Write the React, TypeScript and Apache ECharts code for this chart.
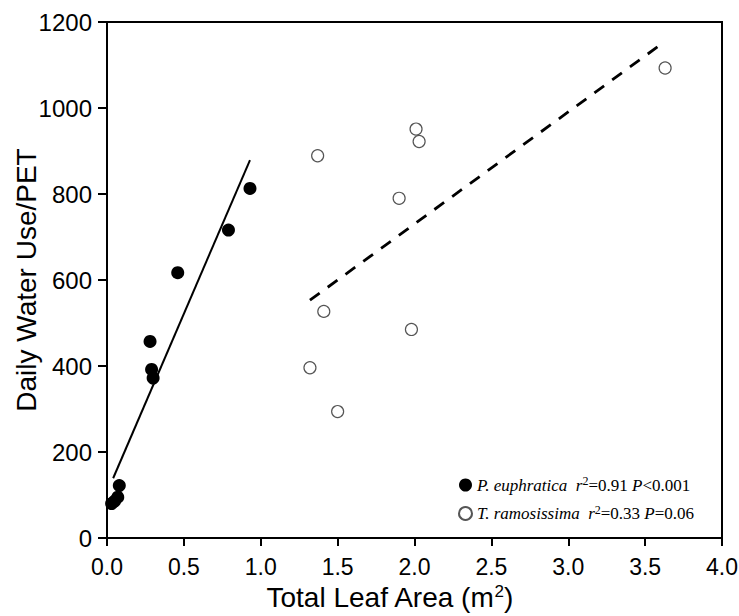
import React, { useEffect, useRef } from "react";
import * as echarts from "echarts";

const peX = [0.03, 0.05, 0.07, 0.08, 0.28, 0.29, 0.3, 0.46, 0.79, 0.93];
const peY = [80, 86, 95, 122, 457, 392, 372, 617, 716, 813];
const trX = [1.32, 1.37, 1.41, 1.5, 1.9, 1.98, 2.01, 2.03, 3.63];
const trY = [396, 889, 527, 294, 790, 485, 951, 922, 1093];
const peFitX = [0.04, 0.93];
const peFitY = [139, 879];
const trFitX = [1.32, 3.58];
const trFitY = [553, 1142];
const xTicks = [0, 0.5, 1, 1.5, 2, 2.5, 3, 3.5, 4];
const yTicks = [0, 200, 400, 600, 800, 1000, 1200];

const zip = (a: number[], b: number[]) => a.map((v, i) => [v, b[i]]);

export default function App() {
  const ref = useRef<HTMLDivElement>(null);
  useEffect(() => {
    if (!ref.current) return;
    const chart = echarts.init(ref.current, undefined, { renderer: "svg" });
    const sans = "Liberation Sans, Arial, sans-serif";
    const serif = "Liberation Serif, Times New Roman, serif";
    chart.setOption({
      animation: false,
      backgroundColor: "#fff",
      grid: {
        left: 107, top: 22, right: 17, bottom: 78, show: true, borderColor: "#000", borderWidth: 2,
        backgroundColor: "transparent", containLabel: false, outerBoundsMode: "none",
      },
      xAxis: {
        type: "value",
        min: xTicks[0],
        max: xTicks[xTicks.length - 1],
        interval: 0.5,
        name: "Total Leaf Area (m{s|2})",
        nameLocation: "middle",
        nameGap: 44,
        nameTextStyle: {
          fontFamily: sans, fontSize: 28, color: "#000", padding: [0, 50, 0, 0],
          rich: { s: { fontFamily: sans, fontSize: 17, verticalAlign: "top", padding: [0, 0, 12, 0], color: "#000" } },
        },
        axisLine: { show: true, onZero: false, lineStyle: { color: "#000", width: 2 } },
        axisTick: { show: true, inside: false, length: 8, lineStyle: { color: "#000", width: 2 } },
        axisLabel: { fontFamily: sans, fontSize: 23, color: "#000", margin: 17, formatter: (v: number) => v.toFixed(1) },
        splitLine: { show: false },
      },
      yAxis: {
        type: "value",
        min: yTicks[0],
        max: yTicks[yTicks.length - 1],
        interval: 200,
        name: "Daily Water Use/PET",
        nameLocation: "middle",
        nameGap: 67,
        nameMoveOverlap: false,
        nameTextStyle: { fontFamily: sans, fontSize: 28, color: "#000" },
        axisLine: { show: true, onZero: false, lineStyle: { color: "#000", width: 2 } },
        axisTick: { show: true, inside: false, length: 9, lineStyle: { color: "#000", width: 2 } },
        axisLabel: { fontFamily: sans, fontSize: 24, color: "#000", margin: 15, formatter: (v: number) => String(v) },
        splitLine: { show: false },
      },
      legend: {
        data: ["P. euphratica", "T. ramosissima"],
        orient: "vertical",
        left: 453,
        top: 470,
        itemWidth: 13,
        itemHeight: 13,
        itemGap: 10,
        icon: "circle",
        formatter: (name: string) => {
          if (name === "P. euphratica")
            return "{i|P. euphratica}  {i|r}{s|2}{n|=0.91 }{i|P}{n|<0.001}";
          return "{i|T. ramosissima}  {i|r}{s|2}{n|=0.33 }{i|P}{n|=0.06}";
        },
        textStyle: {
          fontFamily: serif, fontSize: 17, color: "#000",
          rich: {
            i: { fontFamily: serif, fontSize: 17, fontStyle: "italic", color: "#000" },
            n: { fontFamily: serif, fontSize: 17, color: "#000" },
            s: { fontFamily: serif, fontSize: 12, color: "#000", verticalAlign: "top", padding: [0, 0, 8, 0] },
          },
        },
      },
      series: [
        {
          name: "P. euphratica",
          type: "scatter",
          data: zip(peX, peY),
          symbol: "circle",
          symbolSize: 13,
          itemStyle: { color: "#000", borderColor: "#000", borderWidth: 0, opacity: 1 },
          z: 3,
        },
        {
          name: "T. ramosissima",
          type: "scatter",
          data: zip(trX, trY),
          symbol: "circle",
          symbolSize: 12,
          itemStyle: { color: "#fff", borderColor: "#555", borderWidth: 1.2, opacity: 1 },
          z: 3,
        },
        {
          name: "fitPE",
          type: "line",
          data: zip(peFitX, peFitY),
          symbol: "none",
          lineStyle: { color: "#000", width: 2 },
          z: 2,
        },
        {
          name: "fitTR",
          type: "line",
          data: zip(trFitX, trFitY),
          symbol: "none",
          lineStyle: { color: "#000", width: 2.8, type: [12, 10] },
          z: 2,
        },
      ],
    } as any);
    return () => chart.dispose();
  }, []);
  return <div ref={ref} style={{ width: 739, height: 616, position: "absolute", left: 0, top: 0 }} />;
}
